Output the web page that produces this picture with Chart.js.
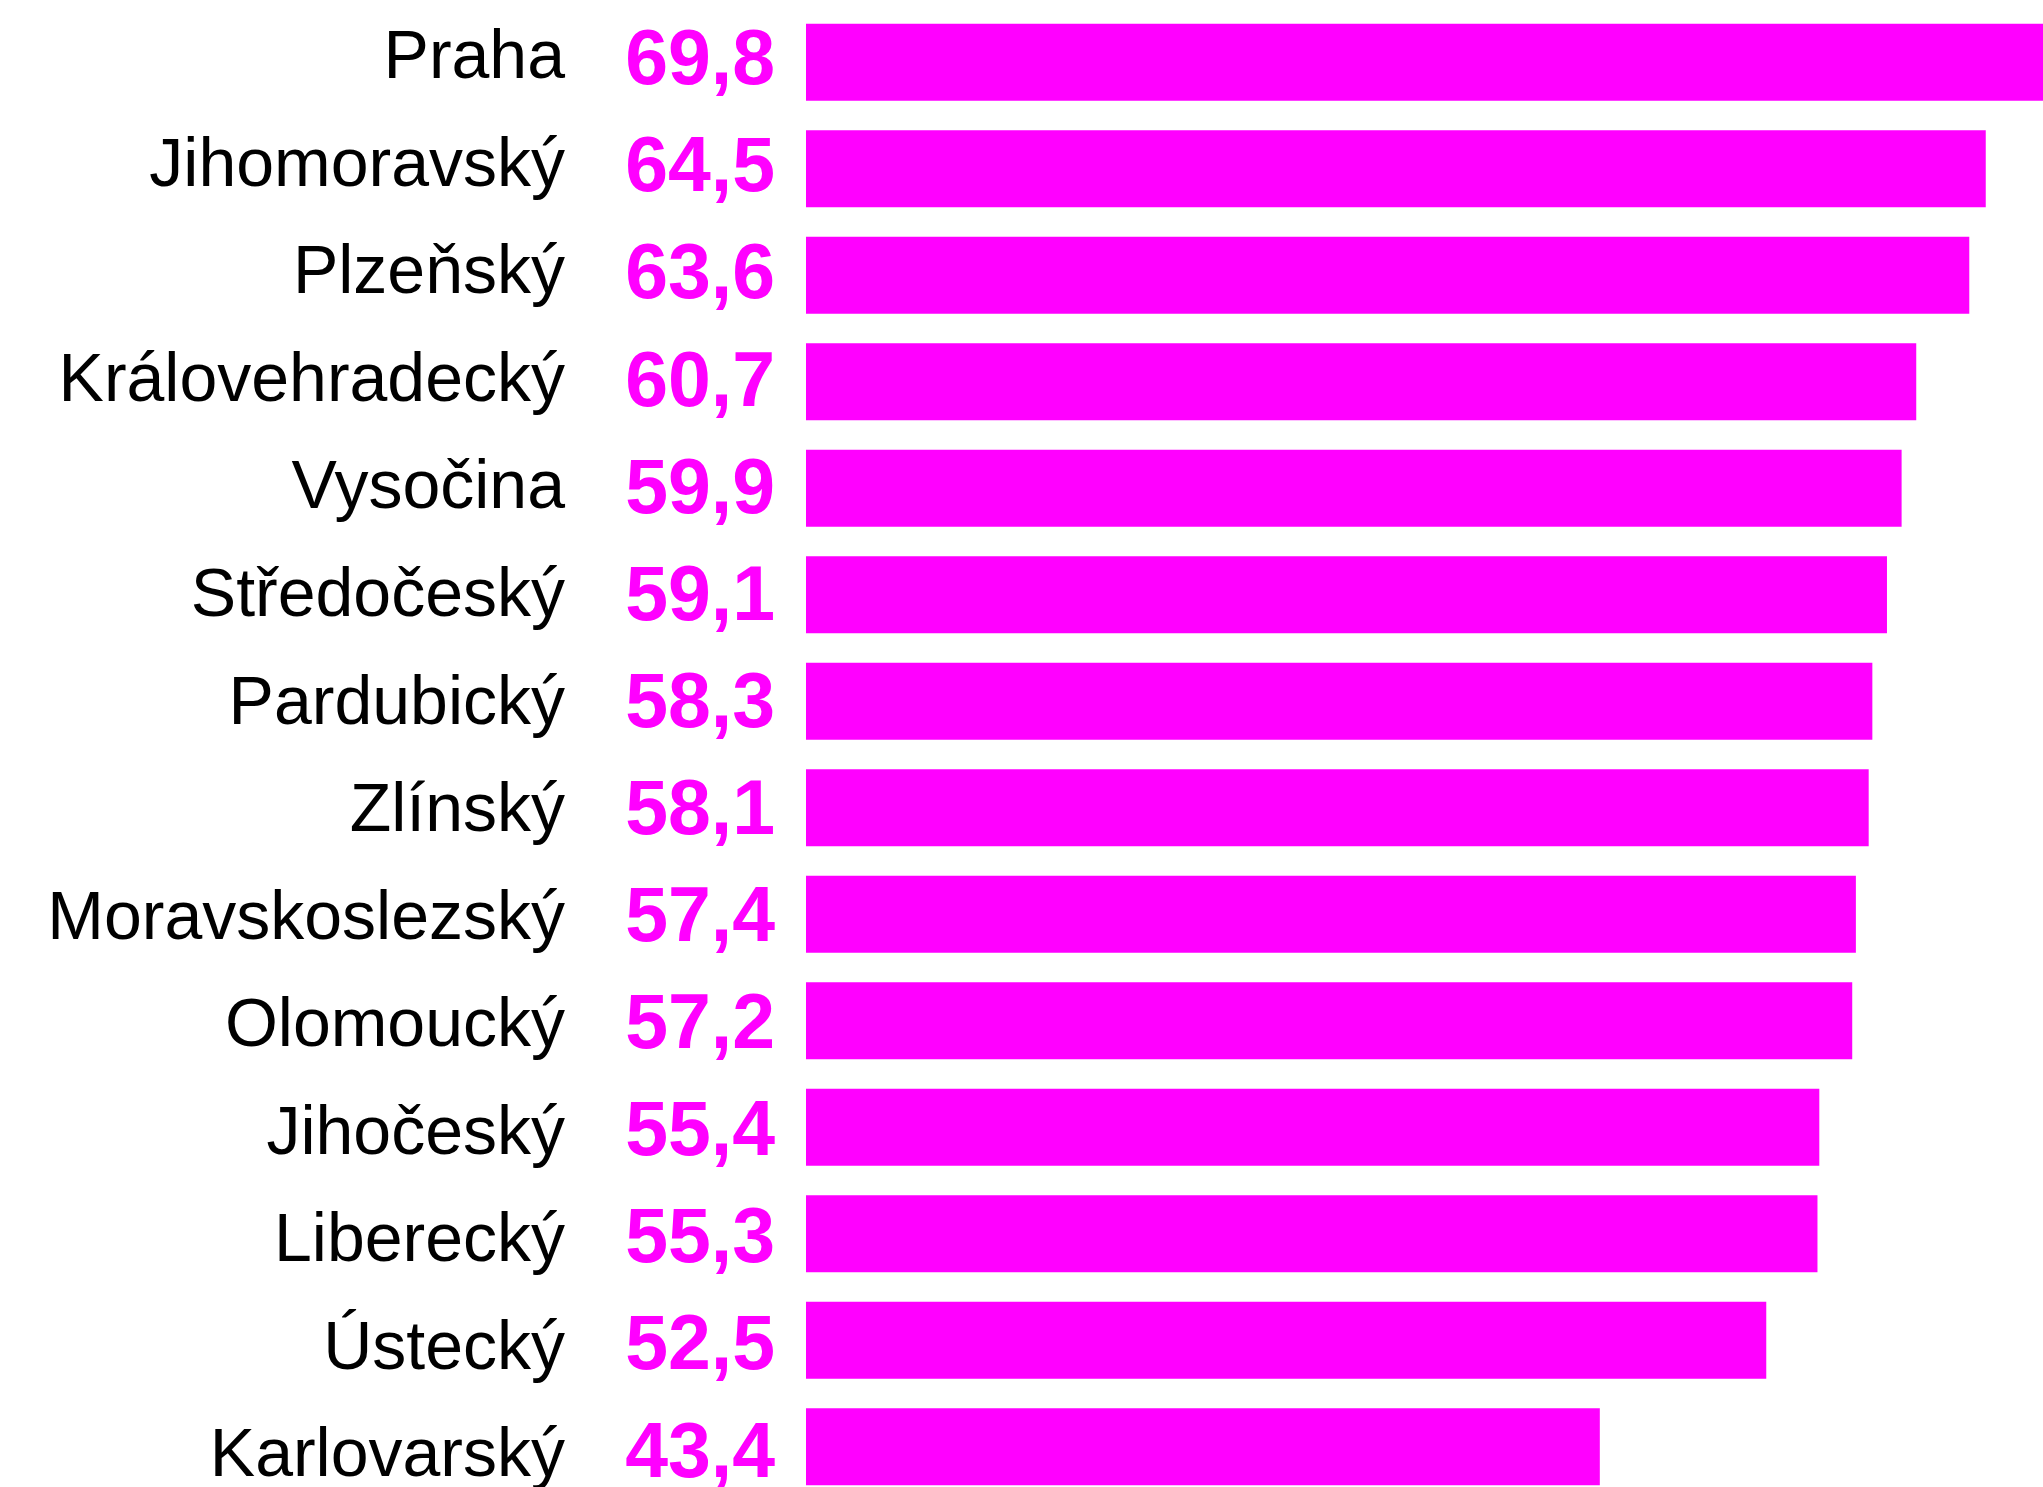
<!DOCTYPE html>
<html lang="cs">
<head>
<meta charset="utf-8">
<script src="https://cdn.jsdelivr.net/npm/chart.js@4/dist/chart.umd.min.js"></script>
<style>
  html, body { margin: 0; padding: 0; background: #fff; overflow: hidden; }
  canvas { display: block; }
</style>
</head>
<body>
<canvas id="graf" width="2043" height="1500"></canvas>
<script>
const kraje = [
  "Praha", "Jihomoravský", "Plzeňský", "Královehradecký", "Vysočina",
  "Středočeský", "Pardubický", "Zlínský", "Moravskoslezský", "Olomoucký",
  "Jihočeský", "Liberecký", "Ústecký", "Karlovarský"
];
const hodnoty = [69.8, 64.5, 63.6, 60.7, 59.9, 59.1, 58.3, 58.1, 57.4, 57.2, 55.4, 55.3, 52.5, 43.4];
const popisky = ["69,8", "64,5", "63,6", "60,7", "59,9", "59,1", "58,3", "58,1", "57,4", "57,2", "55,4", "55,3", "52,5", "43,4"];

const RUZOVA = "#ff00ff";

// nazvy kraju a hodnoty vlevo od sloupcu
const popiskyPlugin = {
  id: "popisky",
  afterDatasetsDraw(chart) {
    const ctx = chart.ctx;
    const y = chart.scales.y;
    ctx.save();
    ctx.textAlign = "right";
    ctx.textBaseline = "alphabetic";
    kraje.forEach((k, i) => {
      const stred = y.getPixelForValue(i);
      ctx.font = "68px 'Liberation Sans', Arial, sans-serif";
      ctx.fillStyle = "#000";
      ctx.fillText(k, 565, stred + 16 + 1.05 * i);
      ctx.font = "bold 77px 'Liberation Sans', Arial, sans-serif";
      ctx.fillStyle = RUZOVA;
      ctx.fillText(popisky[i], 775, stred + 22 + 0.6 * i);
    });
    ctx.restore();
  }
};

new Chart(document.getElementById("graf"), {
  type: "bar",
  data: {
    labels: kraje,
    datasets: [{
      data: hodnoty,
      backgroundColor: RUZOVA,
      borderWidth: 0,
      barPercentage: 1,
      categoryPercentage: 0.723
    }]
  },
  options: {
    indexAxis: "y",
    responsive: false,
    animation: false,
    devicePixelRatio: 1,
    layout: { padding: { left: 806, top: 9, right: 0, bottom: 0 } },
    plugins: { legend: { display: false }, tooltip: { enabled: false } },
    scales: {
      x: { display: false, min: 0, max: 67.63 },
      y: { display: false }
    }
  },
  plugins: [popiskyPlugin]
});
</script>
</body>
</html>
